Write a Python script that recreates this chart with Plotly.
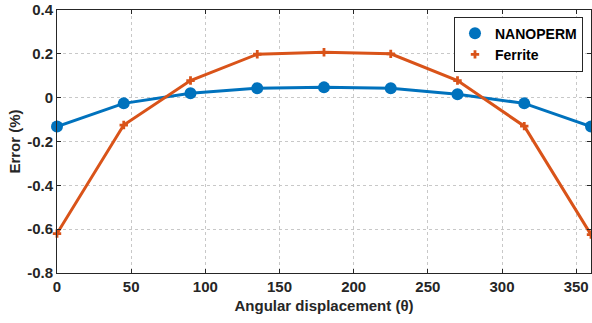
import plotly.graph_objects as go

angles = [0, 45, 90, 135, 180, 225, 270, 315, 360]
nanoperm = [-0.132, -0.026, 0.020, 0.043, 0.047, 0.043, 0.016, -0.026, -0.132]
ferrite = [-0.620, -0.125, 0.078, 0.198, 0.207, 0.200, 0.078, -0.130, -0.625]

x_ticks = [0, 50, 100, 150, 200, 250, 300, 350]
y_ticks = [0.4, 0.2, 0, -0.2, -0.4, -0.6, -0.8]
y_labels = ["0.4", "0.2", "0", "-0.2", "-0.4", "-0.6", "-0.8"]

blue = "#0072BD"
orange = "#D95319"
font = "Liberation Sans, Arial, sans-serif"

fig = go.Figure()
fig.add_trace(go.Scatter(x=angles, y=nanoperm, mode="lines+markers",
                         line=dict(color=blue, width=3),
                         marker=dict(symbol="circle", size=12, color=blue),
                         showlegend=False, cliponaxis=False))
fig.add_trace(go.Scatter(x=angles, y=ferrite, mode="lines+markers",
                         line=dict(color=orange, width=3),
                         marker=dict(symbol="cross", size=7, color=orange),
                         showlegend=False, cliponaxis=False))
# legend entries (marker only, as in the reference)
fig.add_trace(go.Scatter(x=[None], y=[None], mode="markers", name="NANOPERM",
                         marker=dict(symbol="circle", size=12, color=blue)))
fig.add_trace(go.Scatter(x=[None], y=[None], mode="markers", name="Ferrite",
                         marker=dict(symbol="cross", size=7, color=orange)))

axis_common = dict(showline=True, linecolor="#262626", linewidth=1, mirror="ticks",
                   ticks="inside", ticklen=4, tickcolor="#262626",
                   showgrid=True, gridcolor="#c8c8c8", griddash="dot", gridwidth=1,
                   zeroline=False,
                   tickfont=dict(family=font, size=15, color="#262626", weight="bold"))

fig.update_layout(
    width=592, height=323,
    margin=dict(l=57, r=1, t=10, b=50),
    paper_bgcolor="white", plot_bgcolor="white",
    font=dict(family=font, color="#262626"),
    xaxis=dict(range=[0, 360], tickvals=x_ticks, **axis_common,
               title=dict(text="Angular displacement (θ)", standoff=6,
                          font=dict(family=font, size=15, color="#262626", weight="bold"))),
    yaxis=dict(range=[-0.8, 0.4], tickvals=y_ticks, ticktext=y_labels, **axis_common,
               title=dict(text="Error (%)", standoff=2,
                          font=dict(family=font, size=15, color="#262626", weight="bold"))),
    legend=dict(x=0.985, y=0.975, xanchor="right", yanchor="top",
                bgcolor="white", bordercolor="#262626", borderwidth=1,
                font=dict(family=font, size=14, color="#000000", weight="bold"),
                itemwidth=30, tracegroupgap=0),
)

fig.write_html("out.html", config={"displayModeBar": False},
               post_script="document.body.style.margin='0';")
